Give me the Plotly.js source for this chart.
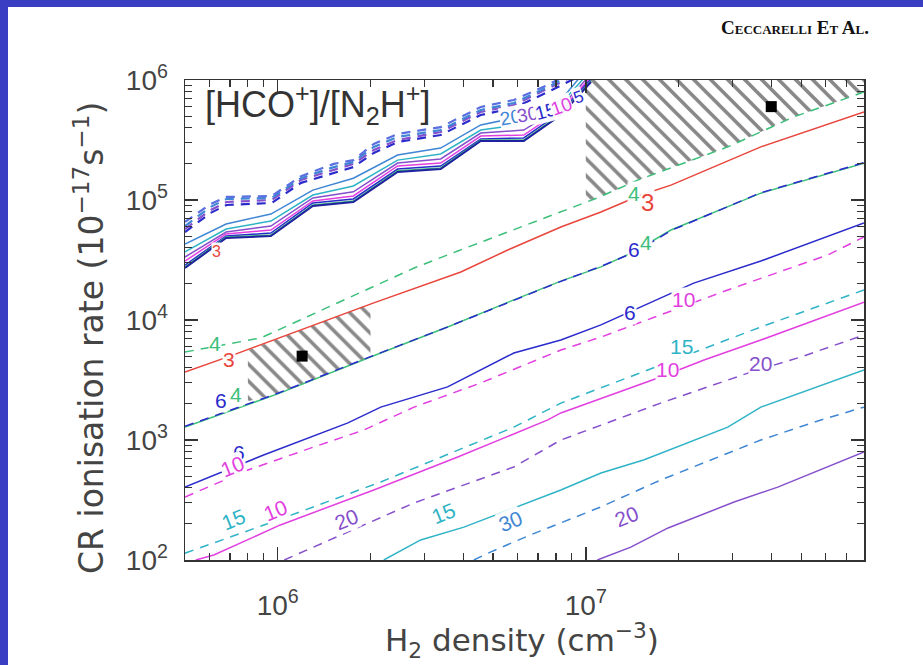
<!DOCTYPE html>
<html>
<head>
<meta charset="utf-8">
<script src="https://cdn.plot.ly/plotly-3.0.1.min.js"></script>
<style>html,body{margin:0;padding:0;background:#fff;}#chart{width:923px;height:665px;}</style>
</head>
<body>
<div id="chart"></div>
<script>
// ---------- data ----------
const xRed = [5.0e5, 7.0e5, 2.05e6, 3.93e6, 5.58e6, 8.3e6, 1.12e7, 1.51e7, 1.89e7, 3.7e7, 8.0e7];
const yRed = [3.69e3, 5.0e3, 1.39e4, 2.51e4, 3.83e4, 5.96e4, 7.94e4, 1.10e5, 1.33e5, 2.77e5, 5.41e5];

const xGreenDash = [5.0e5, 8.8e5, 2.77e6, 3.84e6, 1.09e7, 1.48e7, 2.89e7, 4.73e7, 8.0e7];
const yGreenDash = [5.41e3, 7.08e3, 2.71e4, 3.76e4, 1.04e5, 1.47e5, 2.77e5, 4.92e5, 7.94e5];

const xGreen = [5.0e5, 1.02e6, 2.0e6, 3.56e6, 5.84e6, 8.3e6, 1.12e7, 1.43e7, 1.89e7, 3.7e7, 8.0e7];
const yGreen = [1.28e3, 2.47e3, 4.92e3, 8.75e3, 1.47e4, 2.11e4, 2.77e4, 3.69e4, 5.62e4, 1.14e5, 2.03e5];

const xBlueDash = [5.0e5, 1.0e6, 2.0e6, 3.5e6, 6.0e6, 8.3e6, 1.12e7, 1.45e7, 1.9e7, 3.7e7, 8.0e7];
const yBlueDash = [1.30e3, 2.45e3, 4.95e3, 8.6e3, 1.5e4, 2.1e4, 2.8e4, 3.7e4, 5.6e4, 1.15e5, 2.05e5];

const xBlue = [5.0e5, 9.0e5, 1.69e6, 2.16e6, 3.56e6, 5.84e6, 8.3e6, 1.12e7, 2.24e7, 3.7e7, 8.0e7];
const yBlue = [405, 750, 1.39e3, 1.88e3, 2.77e3, 5.31e3, 6.81e3, 9.1e3, 2.03e4, 3.1e4, 6.43e4];

const xMagDash = [5.0e5, 8.0e5, 1.31e6, 1.90e6, 2.77e6, 4.56e6, 8.3e6, 1.12e7, 2.89e7, 6.1e7, 8.0e7];
const yMagDash = [335, 562, 875, 1.21e3, 1.88e3, 2.99e3, 5.62e3, 7.21e3, 1.78e4, 3.48e4, 4.92e4];

const xCyanDash = [5.0e5, 1.0e6, 2.16e6, 5.84e6, 8.3e6, 3.7e7, 8.0e7];
const yCyanDash = [114, 215, 447, 1.28e3, 2.03e3, 8.75e3, 1.78e4];

const xMag = [5.42e5, 6.2e5, 1.02e6, 2.05e6, 3.84e6, 7.53e6, 8.3e6, 1.75e7, 2.42e7, 3.7e7, 8.0e7];
const yMag = [100, 110, 196, 383, 721, 1.47e3, 1.68e3, 3.35e3, 4.64e3, 6.81e3, 1.41e4];

const xPurDash = [1.05e6, 2.77e6, 5.84e6, 8.3e6, 1.75e7, 3.36e7, 4.99e7, 8.0e7];
const yPurDash = [100, 299, 596, 1.0e3, 2.03e3, 3.61e3, 4.92e3, 7.5e3];

const xCyan = [2.21e6, 2.91e6, 4.02e6, 8.3e6, 1.12e7, 1.54e7, 2.89e7, 3.7e7, 8.0e7];
const yCyan = [100, 147, 188, 383, 531, 681, 1.28e3, 1.88e3, 3.83e3];

const xSteelDash = [4.33e6, 4.92e6, 6.62e6, 8.75e6, 1.12e7, 1.75e7, 3.7e7, 5.8e7, 8.0e7];
const ySteelDash = [100, 117, 162, 215, 277, 464, 1.0e3, 1.47e3, 1.88e3];

const xPur = [1.09e7, 1.40e7, 1.85e7, 3.03e7, 4.2e7, 8.0e7];
const yPur = [100, 128, 185, 304, 405, 794];

// staircase cluster (solid model), bottom to top
const clusterX = [5.0e5, 6.8e5, 9.5e5, 1.3e6, 1.76e6, 2.45e6, 3.38e6, 4.56e6, 6.29e6, 8.3e6, 1.04e7];
const cl3  = [2.71e4, 4.82e4, 5.01e4, 8.91e4, 9.62e4, 1.71e5, 1.81e5, 3.10e5, 3.10e5, 5.11e5, 9.62e5];
const cl4  = [2.77e4, 4.92e4, 5.11e4, 9.09e4, 9.81e4, 1.75e5, 1.85e5, 3.16e5, 3.16e5, 5.21e5, 9.81e5];
const cl6  = [2.87e4, 5.01e4, 5.31e4, 9.44e4, 1.02e5, 1.81e5, 1.92e5, 3.22e5, 3.29e5, 5.41e5, 1.02e6];
const cl10 = [3.10e4, 5.21e4, 5.62e4, 9.81e4, 1.08e5, 1.92e5, 2.03e5, 3.41e5, 3.48e5, 5.62e5, 1.06e6];
const cl20 = [3.35e4, 5.41e4, 6.07e4, 1.04e5, 1.17e5, 2.03e5, 2.20e5, 3.61e5, 3.83e5, 5.96e5, 1.12e6];
const cl15 = [3.69e4, 5.73e4, 6.68e4, 1.10e5, 1.31e5, 2.15e5, 2.42e5, 3.83e5, 4.30e5, 6.31e5, 1.21e6];
const cl30 = [4.30e4, 6.31e4, 7.64e4, 1.21e5, 1.52e5, 2.37e5, 2.71e5, 4.22e5, 5.01e5, 6.81e5, 1.36e6];

// staircase cluster (dashed model), bottom to top
const clusterDashX = [5.0e5, 6.05e5, 6.82e5, 9.56e5, 1.19e6, 1.52e6, 1.76e6, 2.05e6, 2.45e6, 3.38e6, 4.56e6, 5.84e6, 7.53e6, 9.29e6];
const cd6  = [5.41e4, 7.80e4, 9.09e4, 9.44e4, 1.39e5, 1.68e5, 1.88e5, 2.47e5, 3.04e5, 3.48e5, 5.11e5, 5.85e5, 7.94e5, 1.04e6];
const cd20 = [5.73e4, 8.25e4, 9.62e4, 1.0e5, 1.47e5, 1.78e5, 2.0e5, 2.61e5, 3.16e5, 3.69e5, 5.41e5, 6.19e5, 8.41e5, 1.10e6];
const cd30 = [6.07e4, 8.75e4, 1.02e5, 1.04e5, 1.52e5, 1.88e5, 2.07e5, 2.77e5, 3.35e5, 3.83e5, 5.62e5, 6.43e5, 8.75e5, 1.14e6];
const cd15 = [6.56e4, 9.26e4, 1.06e5, 1.08e5, 1.58e5, 2.0e5, 2.15e5, 2.93e5, 3.55e5, 4.05e5, 5.96e5, 6.81e5, 9.1e5, 1.21e6];

// hatched regions
const hatchTopX = [1.0e7, 1.09e7, 1.48e7, 2.89e7, 4.73e7, 8.0e7, 8.0e7, 1.0e7];
const hatchTopY = [9.7e4, 1.04e5, 1.47e5, 2.77e5, 4.92e5, 7.94e5, 1.0e6, 1.0e6];
const hatchLowX = [8.0e5, 2.0e6, 2.0e6, 1.02e6, 8.0e5];
const hatchLowY = [5.6e3, 1.37e4, 4.92e3, 2.47e3, 2.1e3];

// observed sources
const obsX = [1.2e6, 4.0e7];
const obsY = [5.0e3, 6.0e5];

// axis ticks
const xTickVals = [1e6, 1e7];
const xTickText = ['10<sup>6</sup>', '10<sup>7</sup>'];
const yTickVals = [1e2, 1e3, 1e4, 1e5, 1e6];
const yTickText = ['10<sup>2</sup>', '10<sup>3</sup>', '10<sup>4</sup>', '10<sup>5</sup>', '10<sup>6</sup>'];

// ---------- styling ----------
const C = {
  red: '#e8453c', green: '#3cbf7a', blue: '#2b2bcc', magenta: '#e23fe0',
  purple: '#8650cc', cyan: '#2fb3c6', steel: '#3f86d4'
};
const W = 1.5;
const DASH = '9px,7px';

function line(x, y, color, dashed, width) {
  return {x: x, y: y, type: 'scatter', mode: 'lines', hoverinfo: 'skip', showlegend: false,
          line: {color: color, width: width || W, dash: dashed ? DASH : 'solid'}};
}
function hatch(x, y) {
  return {x: x, y: y, type: 'scatter', mode: 'lines', fill: 'toself', hoverinfo: 'skip', showlegend: false,
          line: {width: 0, color: 'rgba(0,0,0,0)'}, fillcolor: 'rgba(0,0,0,0)',
          fillpattern: {shape: '\\', size: 12, solidity: 0.3, fgcolor: '#111', bgcolor: 'rgba(0,0,0,0)', fillmode: 'overlay'}};
}

const traces = [
  hatch(hatchTopX, hatchTopY),
  hatch(hatchLowX, hatchLowY),
  line(clusterDashX, cd6, C.blue, true, 2.2),
  line(clusterDashX, cd20, C.purple, true, 2.2),
  line(clusterDashX, cd30, C.steel, true, 2.2),
  line(clusterDashX, cd15, '#5a6fe0', true, 2.2),
  line(clusterX, cl30, C.steel),
  line(clusterX, cl15, C.cyan),
  line(clusterX, cl20, C.purple),
  line(clusterX, cl10, C.magenta),
  line(clusterX, cl6, C.blue),
  line(clusterX, cl4, C.green),
  line(clusterX, cl3, '#2020a0', false, 2),
  line(xRed, yRed, C.red),
  line(xGreenDash, yGreenDash, C.green, true),
  line(xGreen, yGreen, C.green),
  line(xBlueDash, yBlueDash, C.blue, true),
  line(xBlue, yBlue, C.blue),
  line(xMagDash, yMagDash, C.magenta, true),
  line(xCyanDash, yCyanDash, C.cyan, true),
  line(xMag, yMag, C.magenta),
  line(xPurDash, yPurDash, C.purple, true),
  line(xCyan, yCyan, C.cyan),
  line(xSteelDash, ySteelDash, C.steel, true),
  line(xPur, yPur, C.purple),
  {x: obsX, y: obsY, type: 'scatter', mode: 'markers', hoverinfo: 'skip', showlegend: false,
   marker: {symbol: 'square', size: 11, color: '#000'}}
];

// ---------- layout helpers (pixel -> paper) ----------
const M = {l: 185, r: 59, t: 80, b: 105};
const PW = 923 - M.l - M.r, PH = 665 - M.t - M.b;
const px = v => (v - M.l) / PW;
const py = v => (665 - M.b - v) / PH;

function lab(text, x, y, color, ang, size) {
  return {text: text, xref: 'paper', yref: 'paper', x: px(x), y: py(y), showarrow: false,
          textangle: ang === undefined ? -22 : ang, bgcolor: 'rgba(255,255,255,0.95)', borderpad: 0,
          font: {family: 'Liberation Sans, Arial, sans-serif', size: size || 21, color: color}};
}

const annotations = [
  lab('3', 222, 360, C.red, 0),
  lab('4', 208, 343, C.green, 0),
  lab('6', 214, 413, C.blue, 0),
  lab('4', 229, 407, C.green, 0),
  lab('6', 232, 465, C.blue, 0),
  lab('10', 216, 483, C.magenta),
  lab('15', 217, 536, C.cyan),
  lab('10', 259, 527, C.magenta),
  lab('20', 330, 536, C.purple),
  lab('15', 443, 530, C.cyan),
  lab('30', 510, 538, C.steel),
  lab('20', 643, 533, C.purple),
  lab('6', 630, 312, C.blue, 0),
  lab('10', 696, 299, C.magenta, 0),
  lab('15', 694, 346, C.cyan, 0),
  lab('10', 680, 369, C.magenta, 0),
  lab('20', 773, 363, C.purple, 0),
  lab('3', 655, 188, C.red, 0, 24),
  lab('4', 634, 181, C.green, 0),
  lab('6', 634, 250, C.blue, 0),
  lab('4', 653, 242, C.green, 0),
  lab('3', 211, 252, C.red, 0, 16),
  lab('20', 510, 104, C.steel, -10, 19),
  lab('30', 527, 101, C.purple, -10, 19),
  lab('15', 545, 97, C.blue, -15, 19),
  lab('10', 561, 92, C.magenta, -20, 19),
  lab('5', 578, 86, C.blue, -20, 17),
  {text: '[HCO<sup>+</sup>]/[N<sub>2</sub>H<sup>+</sup>]', xref: 'paper', yref: 'paper',
   x: px(203), y: py(104), xanchor: 'left', yanchor: 'middle', showarrow: false,
   font: {family: 'Liberation Sans, Arial, sans-serif', size: 36, color: '#333'}},
  {text: 'CR ionisation rate (10<sup>−17</sup>s<sup>−1</sup>)', xref: 'paper', yref: 'paper',
   x: px(89), y: py(338), textangle: -90, showarrow: false, xanchor: 'center', yanchor: 'middle',
   font: {family: 'DejaVu Sans, sans-serif', size: 33, color: '#444'}},
  {text: 'H<sub>2</sub> density (cm<sup>−3</sup>)', xref: 'paper', yref: 'paper',
   x: px(522), y: py(640), showarrow: false, xanchor: 'center', yanchor: 'middle',
   font: {family: 'DejaVu Sans, sans-serif', size: 31, color: '#444'}},
  {text: 'Ceccarelli Et Al.', xref: 'paper', yref: 'paper',
   x: px(871), y: py(28), showarrow: false, xanchor: 'right', yanchor: 'middle',
   font: {family: 'Liberation Serif, serif', size: 19, color: '#111', weight: 'bold', variant: 'small-caps'}}
];

const border = '#3a3ec2';
const shapes = [
  {type: 'rect', xref: 'paper', yref: 'paper', x0: px(0), x1: px(8), y0: py(665), y1: py(0),
   fillcolor: border, line: {width: 0}, layer: 'above'},
  {type: 'rect', xref: 'paper', yref: 'paper', x0: px(0), x1: px(923), y0: py(7), y1: py(0),
   fillcolor: border, line: {width: 0}, layer: 'above'}
];

const axisCommon = {
  type: 'log', showgrid: false, zeroline: false, showline: true, linecolor: '#333', linewidth: 1.5,
  mirror: 'allticks', ticks: 'inside', ticklen: 13, tickwidth: 1.5, tickcolor: '#333',
  tickfont: {family: 'Liberation Sans, Arial, sans-serif', size: 28, color: '#444'},
  minor: {ticks: 'inside', ticklen: 7, tickwidth: 1.2, tickcolor: '#333', dtick: 'D1', showgrid: false}
};

const layout = {
  width: 923, height: 665, margin: M, paper_bgcolor: '#fff', plot_bgcolor: '#fff',
  showlegend: false,
  xaxis: Object.assign({}, axisCommon, {range: [Math.log10(5e5), Math.log10(8e7)],
    tickmode: 'array', tickvals: xTickVals, ticktext: xTickText, ticklabelstandoff: 20}),
  yaxis: Object.assign({}, axisCommon, {range: [2, 6],
    tickmode: 'array', tickvals: yTickVals, ticktext: yTickText, ticklabelstandoff: 10}),
  annotations: annotations, shapes: shapes
};

Plotly.newPlot('chart', traces, layout, {staticPlot: true, displayModeBar: false});
</script>
</body>
</html>
